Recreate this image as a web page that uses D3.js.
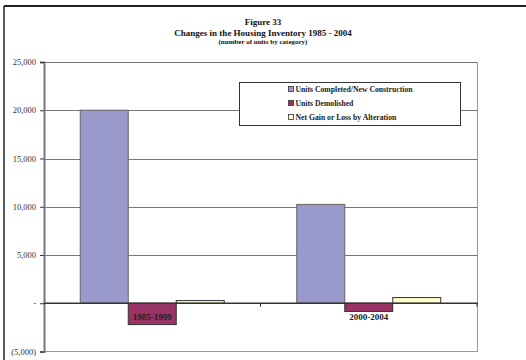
<!DOCTYPE html>
<html><head><meta charset="utf-8">
<script src="https://cdn.jsdelivr.net/npm/d3@7"></script>
<style>body{margin:0;background:#fff}svg{display:block}text{font-family:"Liberation Serif","Times New Roman",serif}</style>
</head><body><svg id="c" width="526" height="360"></svg>
<script>
const categories = ["1985-1999", "2000-2004"];
const seriesNames = ["Units Completed/New Construction", "Units Demolished", "Net Gain or Loss by Alteration"];
const completed = [20000, 10240];
const demolished = [-2210, -860];
const alteration = [280, 590];
const yTicks = [-5000, 0, 5000, 10000, 15000, 20000, 25000];
const yTickLabels = ["(5,000)", "-", "5,000", "10,000", "15,000", "20,000", "25,000"];
const titleLines = ["Figure 33", "Changes in the Housing Inventory 1985 - 2004", "(number of units by category)"];
const colors = ["#9999cc", "#993366", "#ffffcc"];

const svg = d3.select("#c");
const m = {l: 44, r: 477, t: 62, b: 351.5};
const seriesData = [completed, demolished, alteration];

// outer frame
svg.append("line").attr("x1", 4).attr("x2", 526).attr("y1", 6).attr("y2", 6).attr("stroke", "#222").attr("stroke-width", 2);
svg.append("line").attr("x1", 4).attr("x2", 4).attr("y1", 6).attr("y2", 362).attr("stroke", "#222").attr("stroke-width", 1.5);

// titles
const tsz = [9, 9, 7], ty = [25, 35.5, 44];
titleLines.forEach((t, i) => svg.append("text").attr("x", 263).attr("y", ty[i]).attr("text-anchor", "middle")
  .attr("font-size", tsz[i]).attr("font-weight", "bold").attr("fill", "#111").text(t));

const y = d3.scaleLinear().domain([-5000, 25000]).range([m.b, m.t]);
const x0 = d3.scaleBand().domain(categories).range([m.l, m.r]).paddingInner(0).paddingOuter(0);
const groupW = x0.bandwidth() * 144 / 216.5;
const x1 = d3.scaleBand().domain(d3.range(seriesNames.length)).range([0, groupW]).padding(0);

// gridlines
svg.append("g").selectAll("line").data(yTicks.filter(v => v > 0)).join("line")
  .attr("x1", m.l).attr("x2", m.r).attr("y1", d => Math.round(y(d)) + 0.5).attr("y2", d => Math.round(y(d)) + 0.5)
  .attr("stroke", "#777").attr("stroke-width", 1);
// plot border (right, bottom)
svg.append("line").attr("x1", m.r + 0.5).attr("x2", m.r + 0.5).attr("y1", m.t).attr("y2", m.b).attr("stroke", "#999");
svg.append("line").attr("x1", m.l).attr("x2", m.r + 1).attr("y1", m.b).attr("y2", m.b).attr("stroke", "#999");

// bars
const off = (x0.bandwidth() - groupW) / 2;
seriesData.forEach((vals, si) => {
  svg.append("g").selectAll("rect").data(vals).join("rect")
    .attr("x", (d, i) => x0(categories[i]) + off + x1(si))
    .attr("width", x1.bandwidth())
    .attr("y", d => y(Math.max(0, d)))
    .attr("height", d => Math.abs(y(d) - y(0)))
    .attr("fill", colors[si]).attr("stroke", si === 0 ? "#666" : "#333").attr("stroke-width", 1);
});

// y axis
const yAxis = d3.axisLeft(y).tickValues(yTicks).tickFormat((d, i) => yTickLabels[i]).tickSize(4).tickPadding(4);
const ya = svg.append("g").attr("transform", `translate(${m.l},0)`).call(yAxis);
ya.select(".domain").attr("stroke", "#777").attr("stroke-width", 2);
ya.selectAll(".tick line").attr("stroke", "#333");
ya.selectAll("text").attr("font-size", 8.5).attr("fill", "#333").attr("font-family", "Liberation Serif, serif");

// x axis at zero
const xa = svg.append("g").attr("transform", `translate(0,${y(0)})`);
xa.append("line").attr("x1", m.l).attr("x2", m.r + 1).attr("y1", 0).attr("y2", 0).attr("stroke", "#333").attr("stroke-width", 1.3);
xa.selectAll("line.tk").data(categories).join("line").attr("class", "tk")
  .attr("x1", d => x0(d) + x0.bandwidth()).attr("x2", d => x0(d) + x0.bandwidth()).attr("y1", 0).attr("y2", 3.5).attr("stroke", "#333");
xa.selectAll("text").data(categories).join("text")
  .attr("x", d => x0(d) + x0.bandwidth() / 2).attr("y", 17).attr("text-anchor", "middle")
  .attr("font-size", 9).attr("font-weight", "bold").attr("fill", "#222").text(d => d);

// legend
const lg = svg.append("g");
lg.append("rect").attr("x", 239.5).attr("y", 82.5).attr("width", 221).attr("height", 43).attr("fill", "#fff").attr("stroke", "#333");
seriesNames.forEach((n, i) => {
  const cy = 89 + i * 14;
  lg.append("rect").attr("x", 288.5).attr("y", cy - 2.5).attr("width", 5).attr("height", 5).attr("fill", colors[i]).attr("stroke", "#333").attr("stroke-width", 0.8);
  lg.append("text").attr("x", 295.5).attr("y", cy + 3).attr("font-size", 7.7).attr("font-weight", "bold").attr("fill", "#222").text(n);
});
</script></body></html>
